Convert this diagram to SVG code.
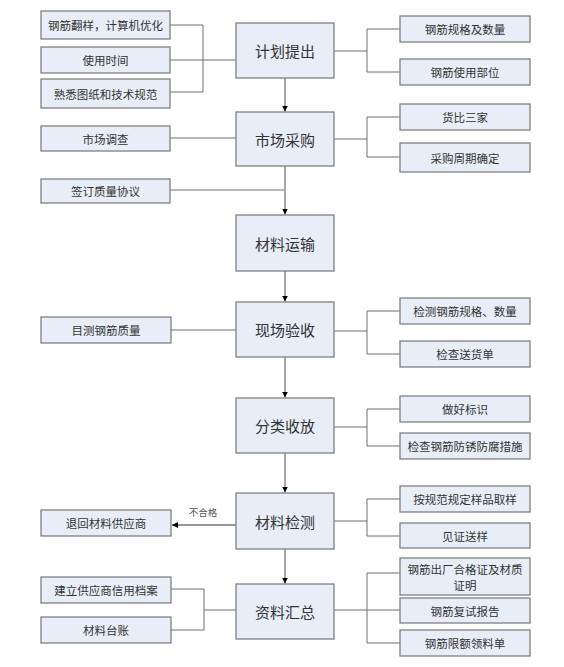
<svg xmlns="http://www.w3.org/2000/svg" width="564" height="667" viewBox="0 0 564 667">
<style>
.b{fill:#e8eef8;stroke:#808080;stroke-width:1.3}
.t{font-family:"Noto Sans CJK SC","Noto Sans",sans-serif;fill:#333;text-anchor:middle;dominant-baseline:central}
.s{font-size:11.5px}
.m{font-size:15px}
.c{fill:none;stroke:#6e6e6e;stroke-width:1}
.v{fill:none;stroke:#a6a6a6;stroke-width:2}
.a{fill:none;stroke:#333;stroke-width:1}
</style>
<defs>
<marker id="ah" viewBox="0 0 10 10" refX="10" refY="5" markerWidth="6" markerHeight="6" markerUnits="userSpaceOnUse" orient="auto">
<path d="M0,0 L10,5 L0,10 z" fill="#000"/>
</marker>
</defs>
<rect width="564" height="667" fill="#fff"/>
<g id="connectors">
<path class="c" d="M170,25 H203 V92 H170 M170,60 H236"/>
<path class="c" d="M170,138 H236"/>
<path class="c" d="M170,190 H285"/>
<path class="c" d="M334,51 H367 M400,29 H367 V72 H400"/>
<path class="c" d="M334,139 H367 M400,117 H367 V157 H400"/>
<path class="c" d="M171,330 H236"/>
<path class="c" d="M334,331 H367 M400,311 H367 V354 H400"/>
<path class="c" d="M334,427 H367 M400,409 H367 V446 H400"/>
<path class="a" d="M236,525 H172" marker-end="url(#ah)"/>
<text class="t" x="203" y="512" style="font-size:9.5px;fill:#555">不合格</text>
<path class="c" d="M334,521 H367 M400,499 H367 V536 H400"/>
<path class="c" d="M236,610 H204 M171,589 H204 V630 H171"/>
<path class="c" d="M334,610 H400 M400,573 H367 V643 H400"/>
<path class="v" d="M285,78 V111.5" marker-end="url(#ah)"/>
<path class="v" d="M285,166 V214.5" marker-end="url(#ah)"/>
<path class="v" d="M285,271 V301.5" marker-end="url(#ah)"/>
<path class="v" d="M285,357 V397.5" marker-end="url(#ah)"/>
<path class="v" d="M285,453 V492.5" marker-end="url(#ah)"/>
<path class="v" d="M285,549 V583.5" marker-end="url(#ah)"/>
</g>
<g id="n_plan"><rect class="b" x="236" y="23" width="98" height="55"/><text class="t m" x="285" y="50.5">计划提出</text></g>
<g id="n_buy"><rect class="b" x="236" y="112" width="98" height="54"/><text class="t m" x="285" y="139">市场采购</text></g>
<g id="n_trans"><rect class="b" x="236" y="215" width="98" height="56"/><text class="t m" x="285" y="243">材料运输</text></g>
<g id="n_accept"><rect class="b" x="236" y="302" width="98" height="55"/><text class="t m" x="285" y="329.5">现场验收</text></g>
<g id="n_sort"><rect class="b" x="236" y="398" width="98" height="55"/><text class="t m" x="285" y="425.5">分类收放</text></g>
<g id="n_test"><rect class="b" x="236" y="493" width="98" height="56"/><text class="t m" x="285" y="521">材料检测</text></g>
<g id="n_docs"><rect class="b" x="236" y="584" width="98" height="55"/><text class="t m" x="285" y="611.5">资料汇总</text></g>

<g id="l1"><rect class="b" x="41" y="11" width="129" height="28"/><text class="t s" x="105.5" y="25">钢筋翻样，计算机优化</text></g>
<g id="l2"><rect class="b" x="41" y="47" width="129" height="26"/><text class="t s" x="105.5" y="60">使用时间</text></g>
<g id="l3"><rect class="b" x="41" y="79" width="129" height="29"/><text class="t s" x="105.5" y="93.5">熟悉图纸和技术规范</text></g>
<g id="l4"><rect class="b" x="41" y="126" width="129" height="25"/><text class="t s" x="105.5" y="138.5">市场调查</text></g>
<g id="l5"><rect class="b" x="41" y="179" width="129" height="24"/><text class="t s" x="105.5" y="191">签订质量协议</text></g>
<g id="l6"><rect class="b" x="41" y="317" width="130" height="26"/><text class="t s" x="106" y="330">目测钢筋质量</text></g>
<g id="l7"><rect class="b" x="41" y="510" width="130" height="26"/><text class="t s" x="106" y="523">退回材料供应商</text></g>
<g id="l8"><rect class="b" x="41" y="577" width="130" height="26"/><text class="t s" x="106" y="590">建立供应商信用档案</text></g>
<g id="l9"><rect class="b" x="41" y="617" width="130" height="26"/><text class="t s" x="106" y="630">材料台账</text></g>

<g id="r1"><rect class="b" x="400" y="16" width="130" height="26"/><text class="t s" x="465" y="29">钢筋规格及数量</text></g>
<g id="r2"><rect class="b" x="400" y="59" width="130" height="26"/><text class="t s" x="465" y="72">钢筋使用部位</text></g>
<g id="r3"><rect class="b" x="400" y="104" width="130" height="26"/><text class="t s" x="465" y="117">货比三家</text></g>
<g id="r4"><rect class="b" x="400" y="143" width="130" height="29"/><text class="t s" x="465" y="157.5">采购周期确定</text></g>
<g id="r5"><rect class="b" x="400" y="298" width="130" height="26"/><text class="t s" x="465" y="311">检测钢筋规格、数量</text></g>
<g id="r6"><rect class="b" x="400" y="341" width="130" height="26"/><text class="t s" x="465" y="354">检查送货单</text></g>
<g id="r7"><rect class="b" x="400" y="396" width="130" height="26"/><text class="t s" x="465" y="409">做好标识</text></g>
<g id="r8"><rect class="b" x="400" y="433" width="130" height="26"/><text class="t s" x="465" y="446">检查钢筋防锈防腐措施</text></g>
<g id="r9"><rect class="b" x="400" y="486" width="130" height="26"/><text class="t s" x="465" y="499">按规范规定样品取样</text></g>
<g id="r10"><rect class="b" x="400" y="523" width="130" height="25"/><text class="t s" x="465" y="535.5">见证送样</text></g>
<g id="r11"><rect class="b" x="400" y="558" width="130" height="37"/><text class="t s" x="465" y="569">钢筋出厂合格证及材质</text><text class="t s" x="465" y="585">证明</text></g>
<g id="r12"><rect class="b" x="400" y="598" width="130" height="25"/><text class="t s" x="465" y="610.5">钢筋复试报告</text></g>
<g id="r13"><rect class="b" x="400" y="630" width="130" height="26"/><text class="t s" x="465" y="643">钢筋限额领料单</text></g>
</svg>
